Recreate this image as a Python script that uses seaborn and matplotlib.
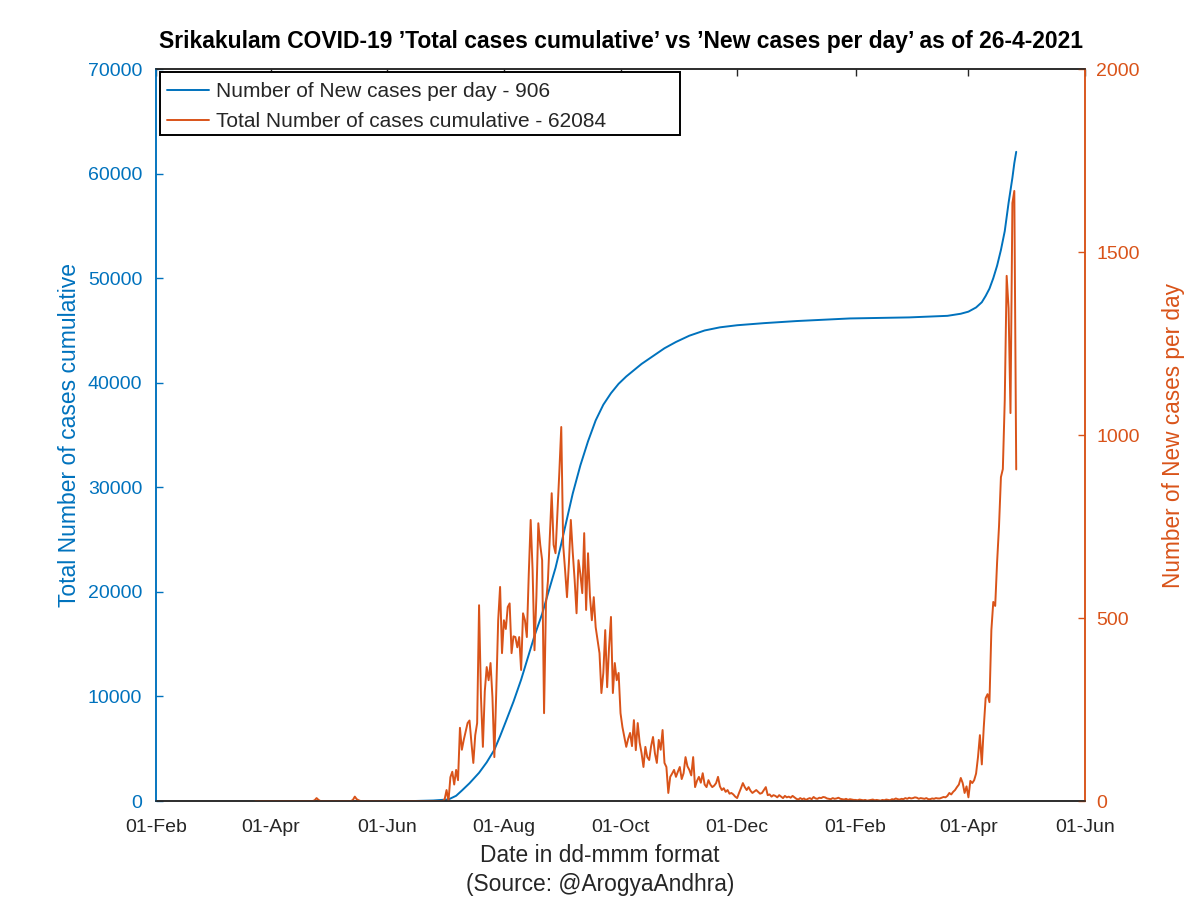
import pandas as pd
import matplotlib
matplotlib.use("Agg")
import matplotlib.pyplot as plt
import matplotlib.dates as mdates
from matplotlib.lines import Line2D
from matplotlib.transforms import ScaledTranslation
import seaborn as sns

# daily new cases, Srikakulam, 24-Mar-2020 .. 26-Apr-2021
new_mar_2020 = [0, 0, 0, 0, 0, 0, 0, 0]
new_apr_2020 = [0, 0, 0, 0, 0, 0, 0, 0, 0, 0, 0, 0, 0, 0, 0, 0, 0, 0, 0, 0,
                0, 0, 0, 2, 8, 3, 0, 0, 0, 0]
new_may_2020 = [0, 0, 0, 0, 0, 0, 0, 0, 0, 0, 0, 0, 0, 3, 12, 5, 2, 0, 0, 0,
                0, 0, 0, 0, 0, 0, 0, 0, 0, 0, 0]
new_jun_2020 = [0, 0, 0, 0, 0, 0, 0, 0, 0, 0, 0, 0, 0, 0, 0, 0, 0, 0, 0, 0,
                0, 0, 0, 0, 0, 0, 0, 0, 0, 0]
new_jul_2020 = [5, 30, 0, 65, 80, 45, 85, 57, 200, 140, 167, 190, 213, 220, 160,
                104, 180, 213, 535, 284, 148, 300, 366, 330, 377, 284, 120, 300,
                494, 585, 404]
new_aug_2020 = [494, 470, 530, 540, 404, 450, 448, 420, 448, 358, 513, 494, 448,
                620, 768, 631, 412, 560, 759, 700, 658, 240, 540, 600, 720, 841,
                700, 677, 787, 900, 1022]
new_sep_2020 = [700, 631, 557, 650, 768, 680, 604, 513, 658, 620, 568, 732, 522,
                677, 560, 494, 557, 475, 440, 404, 295, 350, 467, 311, 420, 503,
                295, 377, 330, 350]
new_oct_2020 = [240, 202, 175, 148, 170, 186, 150, 221, 139, 213, 160, 131, 93,
                148, 120, 112, 150, 175, 130, 104, 167, 140, 194, 104, 93, 22, 66,
                75, 85, 66, 80]
new_nov_2020 = [93, 60, 76, 120, 95, 85, 70, 120, 38, 55, 66, 50, 76, 45, 38, 57,
                45, 38, 42, 49, 66, 40, 30, 35, 25, 30, 20, 22, 18, 12]
new_dec_2020 = [8, 22, 35, 49, 38, 30, 38, 28, 22, 26, 30, 25, 20, 22, 30, 38, 16,
                18, 12, 16, 14, 10, 16, 12, 8, 14, 10, 12, 9, 14, 10]
new_jan_2021 = [6, 4, 8, 5, 7, 3, 6, 8, 5, 11, 7, 6, 9, 8, 11, 10, 7, 6, 5, 8, 6,
                7, 9, 6, 5, 4, 6, 3, 5, 4, 3]
new_feb_2021 = [3, 2, 4, 3, 2, 3, 1, 2, 3, 4, 2, 3, 2, 1, 3, 2, 4, 3, 2, 5, 4, 7,
                5, 4, 6, 5, 8, 6]
new_mar_2021 = [9, 7, 8, 10, 9, 6, 8, 7, 6, 8, 5, 5, 7, 6, 8, 7, 7, 9, 11, 10, 14,
                22, 18, 25, 30, 38, 45, 63, 49, 22, 40]
new_apr_2021 = [10, 55, 49, 57, 75, 120, 180, 100, 200, 281, 292, 270, 467, 544,
                533, 653, 751, 885, 907, 1095, 1435, 1347, 1060, 1634, 1667, 906]

# total cumulative cases
cum_dates = ["2020-06-15", "2020-06-25", "2020-07-03", "2020-07-07", "2020-07-10",
             "2020-07-14", "2020-07-19", "2020-07-23", "2020-07-27", "2020-07-30",
             "2020-08-02", "2020-08-06", "2020-08-10", "2020-08-14", "2020-08-17",
             "2020-08-21", "2020-08-24", "2020-08-28", "2020-08-31", "2020-09-03",
             "2020-09-06", "2020-09-10", "2020-09-14", "2020-09-18", "2020-09-22",
             "2020-09-26", "2020-09-30", "2020-10-04", "2020-10-08", "2020-10-12",
             "2020-10-16", "2020-10-20", "2020-10-24", "2020-10-30", "2020-11-06",
             "2020-11-14", "2020-11-22", "2020-12-01", "2020-12-15", "2021-01-01",
             "2021-01-29", "2021-03-01", "2021-03-21", "2021-03-28", "2021-04-01",
             "2021-04-05", "2021-04-08", "2021-04-10", "2021-04-12", "2021-04-14",
             "2021-04-16", "2021-04-18", "2021-04-20", "2021-04-22", "2021-04-24",
             "2021-04-25", "2021-04-26"]
cum_cases = [0, 50, 150, 500, 1000, 1700, 2700, 3700, 4900, 6200, 7600, 9500,
             11600, 14000, 15800, 17900, 19800, 22300, 24600, 27000, 29400, 32100,
             34400, 36400, 37900, 39000, 39900, 40600, 41200, 41800, 42300, 42800,
             43300, 43900, 44500, 45000, 45300, 45500, 45700, 45900, 46150, 46250,
             46400, 46600, 46800, 47200, 47700, 48300, 49000, 50000, 51200, 52700,
             54500, 57200, 59600, 61000, 62084]

new_cases = (new_mar_2020 + new_apr_2020 + new_may_2020 + new_jun_2020 + new_jul_2020
             + new_aug_2020 + new_sep_2020 + new_oct_2020 + new_nov_2020 + new_dec_2020
             + new_jan_2021 + new_feb_2021 + new_mar_2021 + new_apr_2021)
new_df = pd.DataFrame({"date": pd.date_range("2020-03-24", periods=len(new_cases), freq="D"),
                       "new": new_cases})
cum_df = pd.DataFrame({"date": pd.to_datetime(cum_dates), "total": cum_cases})

blue = "#0072BD"
orange = "#D95319"
dark = "#262626"

sns.set_style("white")
plt.rcParams["font.family"] = ["Liberation Sans", "DejaVu Sans"]

fig = plt.figure(figsize=(12, 8.98), dpi=100)
ax = fig.add_axes([0.13, 0.108, 0.7742, 0.8151])
ax2 = ax.twinx()

sns.lineplot(data=cum_df, x="date", y="total", ax=ax, color=blue, linewidth=1.4)
sns.lineplot(data=new_df, x="date", y="new", ax=ax2, color=orange, linewidth=1.4)

ax.set_xlim(pd.Timestamp("2020-02-01"), pd.Timestamp("2021-06-01"))
ax.set_ylim(0, 70000)
ax2.set_ylim(0, 2000)
ax.set_yticks(range(0, 70001, 10000))
ax2.set_yticks(range(0, 2001, 500))
xt = pd.to_datetime(["2020-02-01", "2020-04-01", "2020-06-01", "2020-08-01", "2020-10-01",
                     "2020-12-01", "2021-02-01", "2021-04-01", "2021-06-01"])
ax.set_xticks(xt)
ax.xaxis.set_major_formatter(mdates.DateFormatter("%d-%b"))

ax.tick_params(axis="x", direction="in", length=5, width=1, colors=dark,
               labelsize=14, pad=13, top=True)
ax.tick_params(axis="y", direction="in", length=5, width=1, colors=blue,
               labelsize=14, pad=10)
ax2.tick_params(axis="y", direction="in", length=5, width=1, colors=orange,
                labelsize=14, pad=8)

for a in (ax, ax2):
    for s in a.spines.values():
        s.set_linewidth(1.1)
        s.set_color(dark)
ax.spines["left"].set_color(blue)
ax2.spines["left"].set_color(blue)
ax2.spines["right"].set_color(orange)
ax.spines["right"].set_color(orange)

ax.set_ylabel("Total Number of cases cumulative", color=blue, fontsize=16.5, labelpad=4.5)
ax2.set_ylabel("Number of New cases per day", color=orange, fontsize=16.3, labelpad=16)
ax.set_xlabel("Date in dd-mmm format\n(Source: @ArogyaAndhra)", color=dark,
              fontsize=16.4, labelpad=6, linespacing=1.3)
# the x label sits at the figure centre, not the axes centre
ax.xaxis.label.set_x(0.478)
ax.set_title("Srikakulam COVID-19 \u2019Total cases cumulative\u2019 vs \u2019New cases per day\u2019 as of 26-4-2021",
             fontsize=16.5, fontweight="bold", color="black", pad=15)

handles = [Line2D([], [], color=blue, linewidth=1.4),
           Line2D([], [], color=orange, linewidth=1.4)]
labels = ["Number of New cases per day - 906",
          "Total Number of cases cumulative - 62084"]
leg = ax2.legend(handles, labels, loc="upper left", bbox_to_anchor=(0.004, 0.0, 0.56, 0.996),
                 mode="expand", borderaxespad=0, fontsize=15, handlelength=2.0,
                 handletextpad=0.35, labelspacing=0.52, borderpad=0.35,
                 fancybox=False, framealpha=1, edgecolor="black")
leg.get_frame().set_linewidth(1.4)
# nudge legend rows down a little inside the box
shift = ScaledTranslation(0, -3 / 100, fig.dpi_scale_trans)
for art in list(leg.get_texts()) + list(leg.legend_handles):
    art.set_transform(art.get_transform() + shift)

fig.savefig("out.png", dpi=100)
